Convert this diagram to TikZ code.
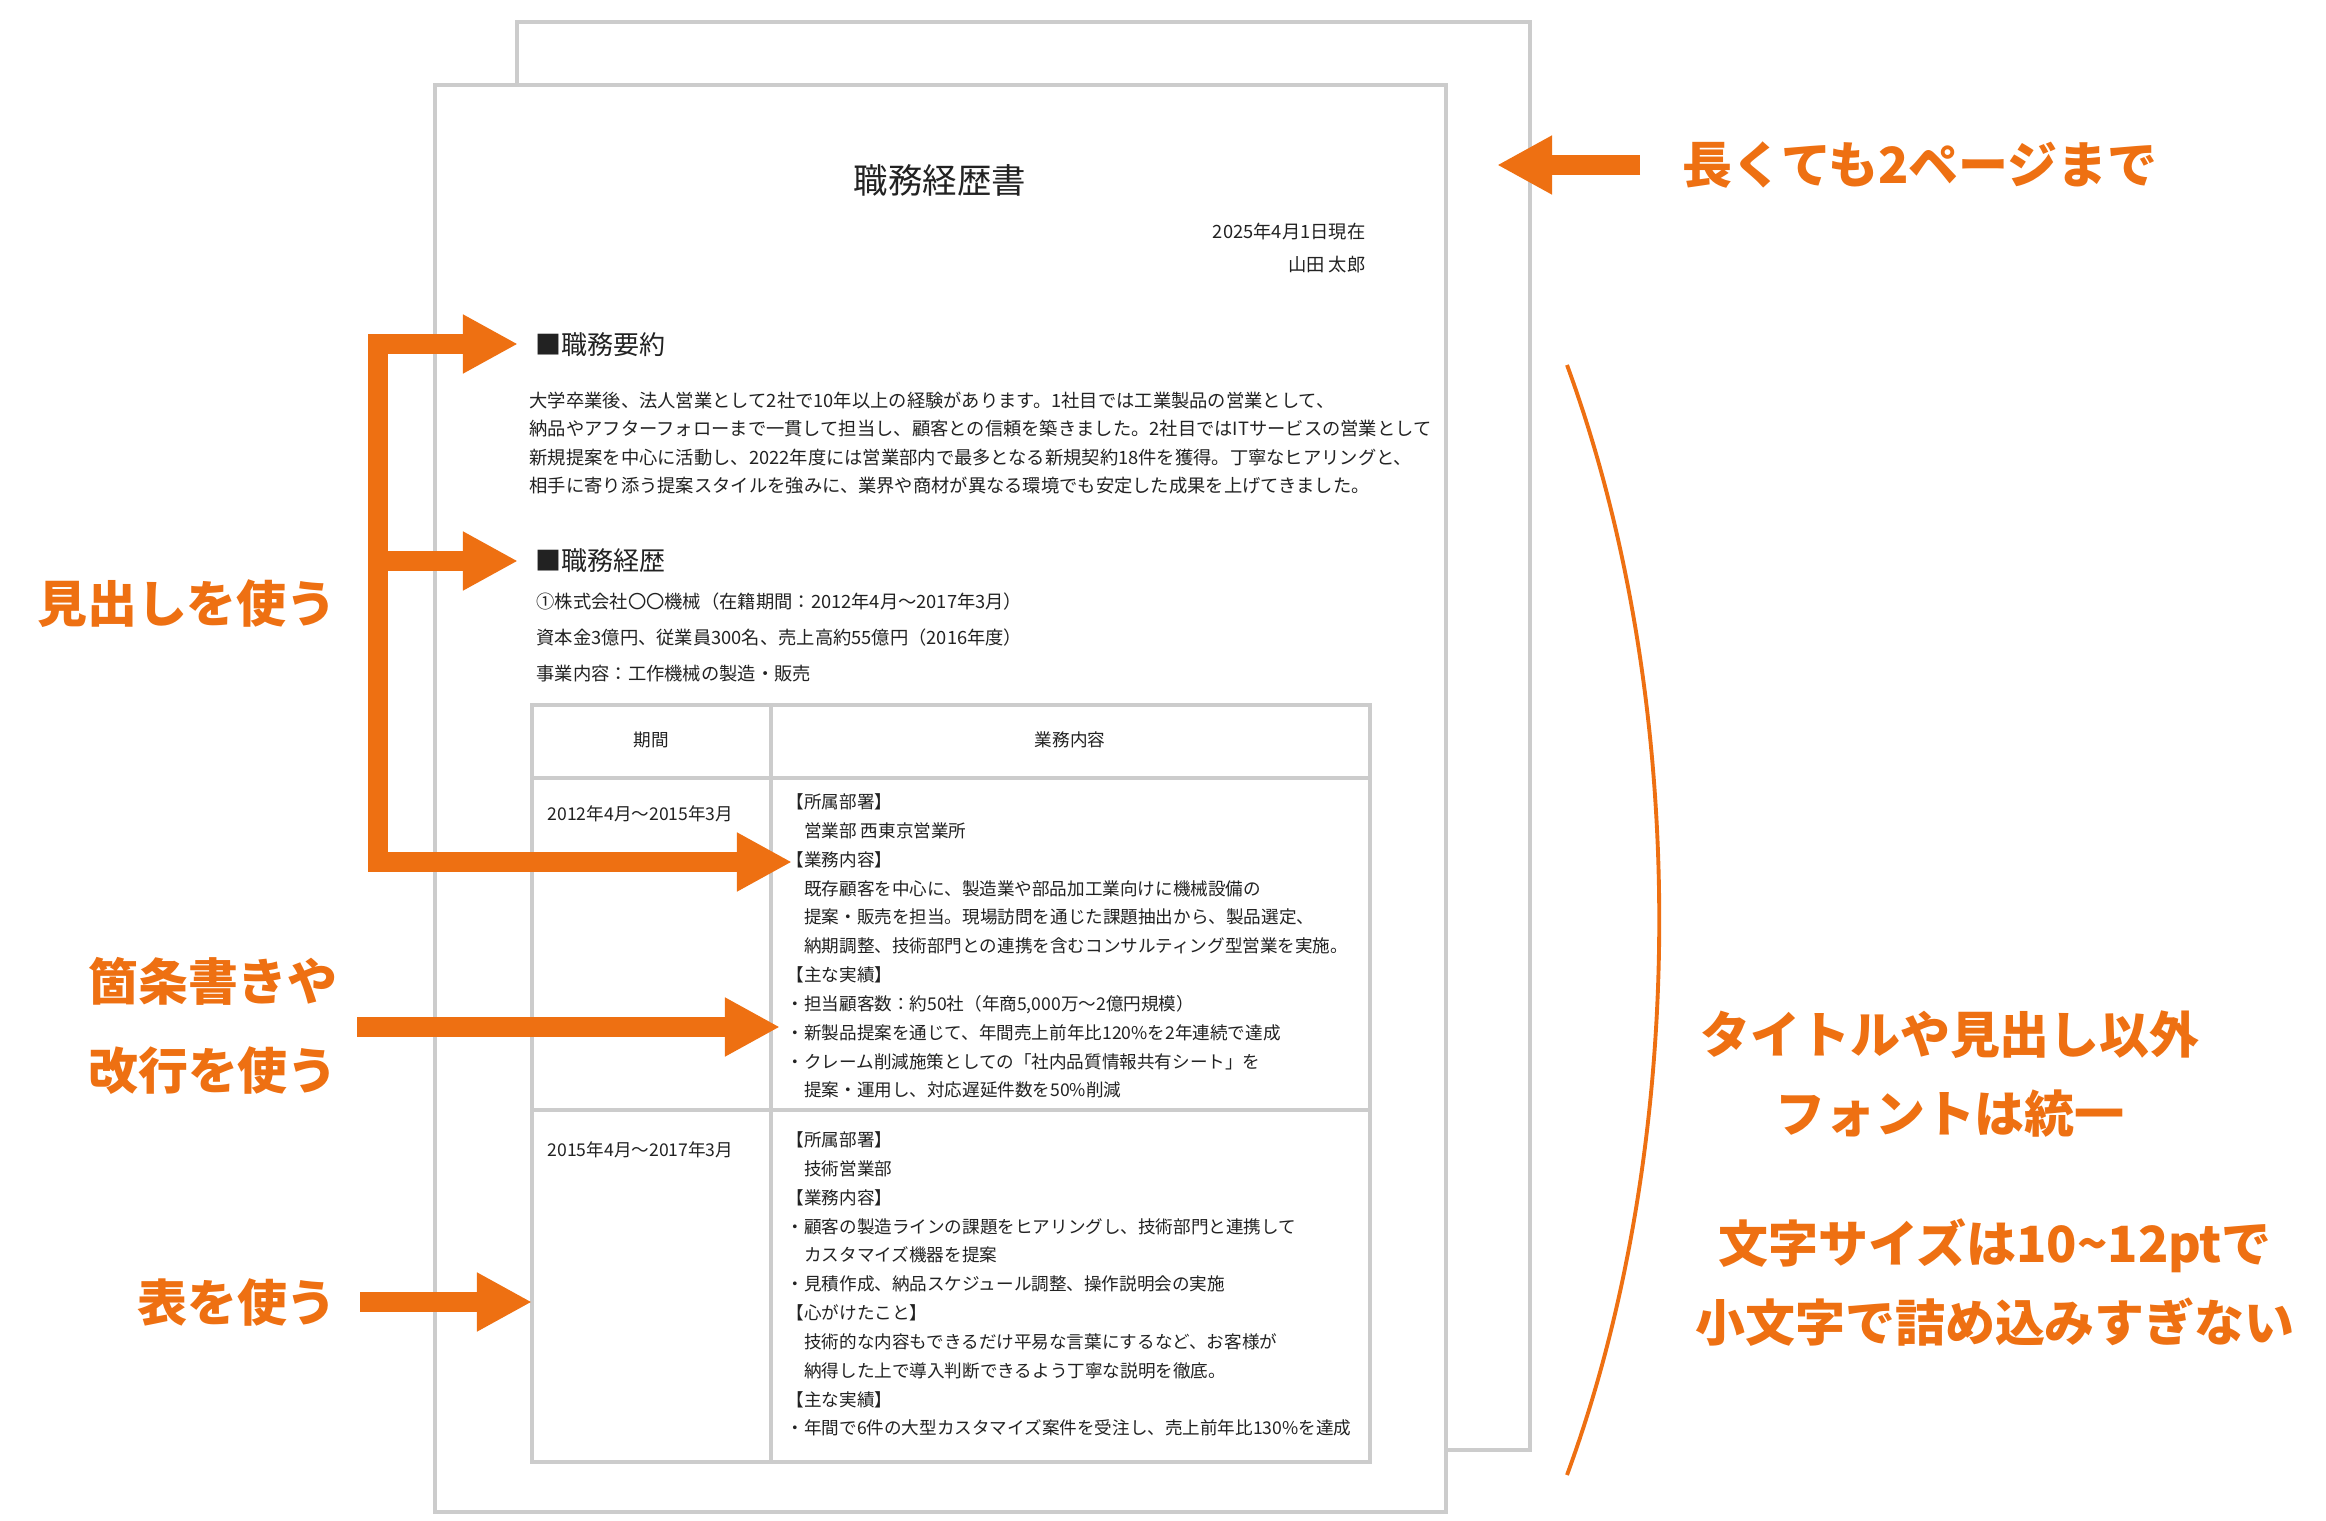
\documentclass[tikz,border=0pt]{standalone}
\usepackage{fontspec}
\setmainfont{Noto Sans CJK JP}
\usetikzlibrary{arrows.meta}
\definecolor{orng}{HTML}{EE7012}
\definecolor{pgline}{HTML}{CCCCCC}
\definecolor{txt}{HTML}{222222}
\tikzset{
 x=0.01cm,y=-0.01cm,
 pagebox/.style={draw=pgline,line width=1.2pt,fill=white},
 tbl/.style={draw=pgline,line width=0.9pt},
 body/.style={inner sep=0,anchor=north west,align=left,text=txt,font=\fontsize{5pt}{8.2pt}\selectfont},
 lbl/.style={inner sep=0,text=orng,font=\fontsize{14.2pt}{17pt}\selectfont\bfseries,align=center},
 oarrow/.style={draw=orng,line width=5.6pt,-{Triangle[length=0.55cm,width=0.55cm]}},
 oarrows/.style={draw=orng,line width=5.6pt,{Triangle[length=0.55cm,width=0.55cm]}-{Triangle[length=0.55cm,width=0.55cm]}}
}
\begin{document}
\begin{tikzpicture}
\useasboundingbox[fill=white] (0,0) rectangle (2326,1521);
% pages
\draw[pagebox] (517,22) rectangle (1530,1450);
\draw[pagebox] (435,85) rectangle (1446,1512);
% title etc
\node[inner sep=0,text=txt,font=\fontsize{9.8pt}{12pt}\selectfont] (title) at (940,180) {職務経歴書};
\node[inner sep=0,anchor=east,text=txt,font=\fontsize{5.2pt}{7pt}\selectfont] (date) at (1366,232) {2025年4月1日現在};
\node[inner sep=0,anchor=east,text=txt,font=\fontsize{5.2pt}{7pt}\selectfont] (name) at (1366,265) {山田 太郎};
\node[inner sep=0,anchor=west,text=txt,font=\fontsize{7.4pt}{9pt}\selectfont] (h1) at (535,345) {■職務要約};
\node[body,font=\fontsize{5.2pt}{8.1pt}\selectfont] (para) at (529,391) {大学卒業後、法人営業として2社で10年以上の経験があります。1社目では工業製品の営業として、\\納品やアフターフォローまで一貫して担当し、顧客との信頼を築きました。2社目ではITサービスの営業として\\新規提案を中心に活動し、2022年度には営業部内で最多となる新規契約18件を獲得。丁寧なヒアリングと、\\相手に寄り添う提案スタイルを強みに、業界や商材が異なる環境でも安定した成果を上げてきました。};
\node[inner sep=0,anchor=west,text=txt,font=\fontsize{7.4pt}{9pt}\selectfont] (h2) at (535,561) {■職務経歴};
\node[body,font=\fontsize{5.2pt}{10.2pt}\selectfont] (comp) at (536,592) {①株式会社〇〇機械（在籍期間：2012年4月～2017年3月）\\資本金3億円、従業員300名、売上高約55億円（2016年度）\\事業内容：工作機械の製造・販売};
% table
\draw[tbl] (532,705) rectangle (1370,1462);
\draw[tbl] (771,705) -- (771,1462);
\draw[tbl] (532,778) -- (1370,778);
\draw[tbl] (532,1110) -- (1370,1110);
\node[inner sep=0,text=txt,font=\fontsize{5pt}{7pt}\selectfont] (th1) at (651,740) {期間};
\node[inner sep=0,text=txt,font=\fontsize{5pt}{7pt}\selectfont] (th2) at (1070,740) {業務内容};
\node[inner sep=0,anchor=west,text=txt,font=\fontsize{5pt}{7pt}\selectfont] (p1) at (547,814) {2012年4月～2015年3月};
\node[inner sep=0,anchor=west,text=txt,font=\fontsize{5pt}{7pt}\selectfont] (p2) at (547,1150) {2015年4月～2017年3月};
\node[body] (r1) at (786,793) {【所属部署】\\　営業部 西東京営業所\\【業務内容】\\　既存顧客を中心に、製造業や部品加工業向けに機械設備の\\　提案・販売を担当。現場訪問を通じた課題抽出から、製品選定、\\　納期調整、技術部門との連携を含むコンサルティング型営業を実施。\\【主な実績】\\・担当顧客数：約50社（年商5,000万～2億円規模）\\・新製品提案を通じて、年間売上前年比120\%を2年連続で達成\\・クレーム削減施策としての「社内品質情報共有シート」を\\　提案・運用し、対応遅延件数を50\%削減};
\node[body] (r2) at (786,1131) {【所属部署】\\　技術営業部\\【業務内容】\\・顧客の製造ラインの課題をヒアリングし、技術部門と連携して\\　カスタマイズ機器を提案\\・見積作成、納品スケジュール調整、操作説明会の実施\\【心がけたこと】\\　技術的な内容もできるだけ平易な言葉にするなど、お客様が\\　納得した上で導入判断できるよう丁寧な説明を徹底。\\【主な実績】\\・年間で6件の大型カスタマイズ案件を受注し、売上前年比130\%を達成};
% orange annotations
\coordinate (t1) at (518,344);
\coordinate (t2) at (518,561);
\coordinate (t3) at (792,862);
\coordinate (bt) at (378,344);
\coordinate (bm) at (378,561);
\coordinate (bb) at (378,862);
\draw[oarrows] (t1) -- (bt) -- (bb) -- (t3);
\draw[oarrow] (bm) -- (t2);
\node[lbl] (L1) at (187,604) {見出しを使う};
\node[lbl,font=\fontsize{14.2pt}{25.5pt}\selectfont\bfseries] (L2) at (213,1026) {箇条書きや\\改行を使う};
\coordinate (a2s) at (357,1027);
\coordinate (a2e) at (780,1027);
\draw[oarrow] (a2s) -- (a2e);
\node[lbl] (L3) at (237,1302) {表を使う};
\coordinate (a3s) at (360,1302);
\coordinate (a3e) at (532,1302);
\draw[oarrow] (a3s) -- (a3e);
\coordinate (a4s) at (1640,165);
\coordinate (a4e) at (1497,165);
\draw[oarrow] (a4s) -- (a4e);
\node[lbl] (L4) at (1920,165) {長くても2ページまで};
\coordinate (c1) at (1567,365);
\coordinate (c2) at (1567,1475);
\draw[orng,line width=1.1pt] (c1) .. controls (1690,700) and (1690,1140) .. (c2);
\node[lbl,font=\fontsize{14.2pt}{22.5pt}\selectfont\bfseries] (L5) at (1950,1074) {タイトルや見出し以外\\フォントは統一};
\node[lbl,font=\fontsize{14.2pt}{22.5pt}\selectfont\bfseries] (L6) at (1995,1283) {文字サイズは10\textasciitilde12ptで\\小文字で詰め込みすぎない};
\end{tikzpicture}
\end{document}
